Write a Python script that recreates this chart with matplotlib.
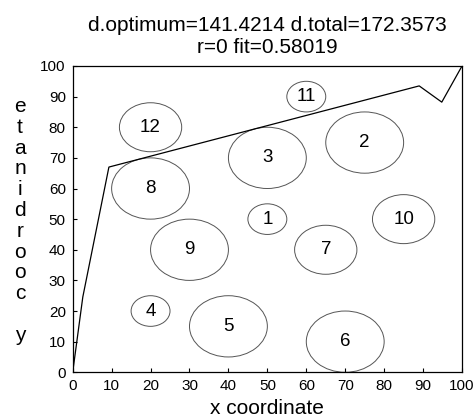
import matplotlib
matplotlib.use("Agg")
import matplotlib.pyplot as plt
from matplotlib.patches import Circle

plt.rcParams['font.family'] = ['Liberation Sans', 'DejaVu Sans']

# circle data
labels = ["1", "2", "3", "4", "5", "6", "7", "8", "9", "10", "11", "12"]
cx = [50, 75, 50, 20, 40, 70, 65, 20, 30, 85, 60, 20]
cy = [50, 75, 70, 20, 15, 10, 40, 60, 40, 50, 90, 80]
cr = [5, 10, 10, 5, 10, 10, 8, 10, 10, 8, 5, 8]

# path data
path_x = [0, 2.6, 9.3, 89, 94.8, 100]
path_y = [0, 24.6, 67, 93.5, 88.2, 100]

xticks = [0, 10, 20, 30, 40, 50, 60, 70, 80, 90, 100]
yticks = [0, 10, 20, 30, 40, 50, 60, 70, 80, 90, 100]

title = "d.optimum=141.4214 d.total=172.3573\nr=0 fit=0.58019"

fig = plt.figure(figsize=(4.77, 4.19), dpi=100)
ax = fig.add_axes([0.1524, 0.1115, 0.8162, 0.731])

for x, y, r, lab in zip(cx, cy, cr, labels):
    ax.add_patch(Circle((x, y), r, fill=False, edgecolor='#555555', linewidth=0.7))
    ax.text(x, y, lab, ha='center', va='center', fontsize=13.5)

ax.plot(path_x, path_y, color='black', linewidth=0.9)

ax.set_xlim(0, 100)
ax.set_ylim(0, 100)
ax.set_xticks(xticks)
ax.set_yticks(yticks)
ax.tick_params(direction='in', length=3, width=0.8, labelsize=11, top=False, right=False, pad=5)
for s in ax.spines.values():
    s.set_linewidth(0.9)

ax.set_title(title, fontsize=15, linespacing=1.25, pad=9)
ax.set_xlabel("x coordinate", fontsize=15, labelpad=4)

ylab = "\n".join(list("etanidrooc")) + "\n \ny"
fig.text(20 / 477, 1 - 221 / 419, ylab, ha='center', va='center', fontsize=15,
         linespacing=1.12, multialignment='center')

fig.savefig("out.png", dpi=100)
